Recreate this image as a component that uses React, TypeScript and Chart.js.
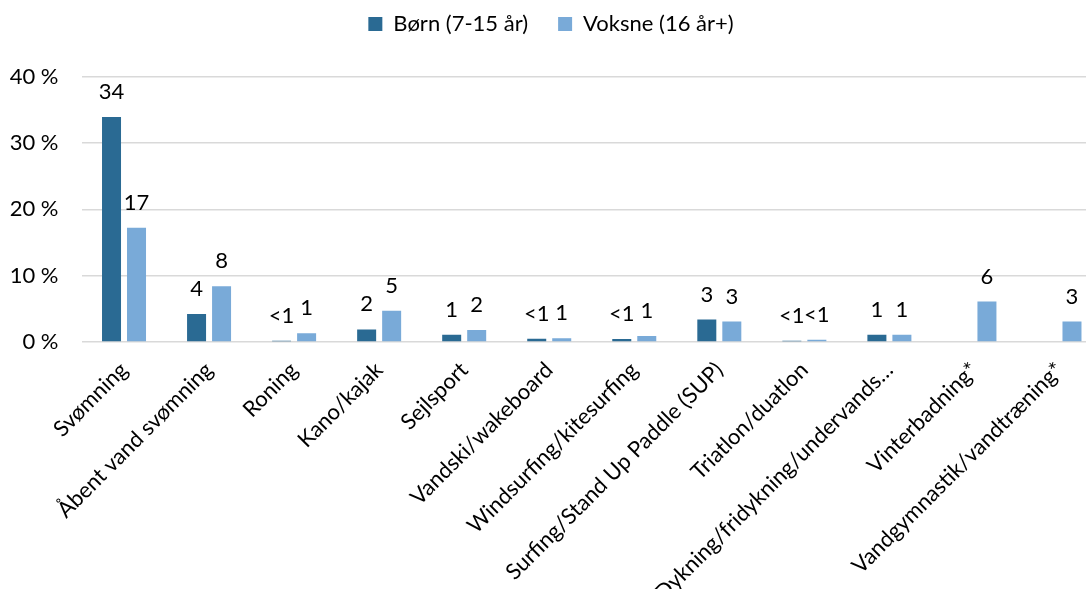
import React, { useEffect, useRef } from "react";
import { Chart, registerables } from "chart.js";

Chart.register(...registerables);

const categories = [
  "Svømning",
  "Åbent vand svømning",
  "Roning",
  "Kano/kajak",
  "Sejlsport",
  "Vandski/wakeboard",
  "Windsurfing/kitesurfing",
  "Surfing/Stand Up Paddle (SUP)",
  "Triatlon/duatlon",
  "Dykning/fridykning/undervands…",
  "Vinterbadning*",
  "Vandgymnastik/vandtræning*",
];

const childrenValues: (number | null)[] = [33.9, 4.2, 0.2, 1.9, 1.1, 0.5, 0.45, 3.4, 0.2, 1.1, null, null];
const adultValues: (number | null)[] = [17.2, 8.4, 1.3, 4.7, 1.8, 0.55, 0.9, 3.1, 0.35, 1.1, 6.1, 3.1];

const childrenLabels = ["34", "4", "<1", "2", "1", "<1", "<1", "3", "<1", "1", "", ""];
const adultLabels = ["17", "8", "1", "5", "2", "1", "1", "3", "<1", "1", "6", "3"];

const yTicks = [0, 10, 20, 30, 40];

const seriesNames = ["Børn (7-15 år)", "Voksne (16 år+)"];
const seriesColors = ["#2A6A93", "#79AAD8"];

const FONT = "Lato";

const valueLabelPlugin = {
  id: "valueLabels",
  afterDatasetsDraw(chart: any) {
    const ctx = chart.ctx;
    const labelSets = [childrenLabels, adultLabels];
    ctx.save();
    ctx.font = `22px ${FONT}`;
    ctx.fillStyle = "#000";
    ctx.textAlign = "center";
    ctx.textBaseline = "middle";
    chart.data.datasets.forEach((ds: any, di: number) => {
      const meta = chart.getDatasetMeta(di);
      meta.data.forEach((el: any, i: number) => {
        const v = ds.data[i];
        const txt = labelSets[di][i];
        if (v === null || v === undefined || !txt) return;
        ctx.fillText(txt, el.x, el.y - 25);
      });
    });
    ctx.restore();
  },
};

// adds empty space below the legend so the plot starts lower
const legendSpacerPlugin = {
  id: "legendSpacer",
  beforeLayout(chart: any) {
    const lg = chart.legend;
    if (lg && !lg.__spaced) {
      const orig = lg.fit.bind(lg);
      lg.fit = function () {
        orig();
        this.height += 31.5;
      };
      lg.__spaced = true;
    }
  },
};

export default function App() {
  const ref = useRef<HTMLCanvasElement | null>(null);

  useEffect(() => {
    if (!ref.current) return;
    Chart.defaults.font.family = FONT;
    const chart = new Chart(ref.current, {
      type: "bar",
      data: {
        labels: categories,
        datasets: [
          {
            label: seriesNames[0],
            data: childrenValues,
            backgroundColor: seriesColors[0],
            categoryPercentage: 0.588,
            barPercentage: 0.76,
          },
          {
            label: seriesNames[1],
            data: adultValues,
            backgroundColor: seriesColors[1],
            categoryPercentage: 0.588,
            barPercentage: 0.76,
          },
        ],
      },
      options: {
        responsive: false,
        animation: false,
        layout: { padding: { top: -17, left: 0, right: 0, bottom: 0 } },
        plugins: {
          legend: {
            display: true,
            position: "top",
            labels: {
              boxWidth: 14,
              boxHeight: 14,
              padding: 30,
              color: "#000",
              font: { size: 22, family: FONT },
            },
          },
          tooltip: { enabled: false },
        },
        scales: {
          x: {
            grid: { display: false },
            border: { display: false },
            ticks: {
              autoSkip: false,
              maxRotation: 45,
              minRotation: 45,
              color: "#000",
              padding: 7,
              font: { size: 22, family: FONT },
            },
            afterFit: (scale: any) => {
              scale.height = 247;
              scale.paddingLeft = 0;
              scale.paddingRight = 0;
            },
          },
          y: {
            min: 0,
            max: 40,
            afterBuildTicks: (scale: any) => {
              scale.ticks = yTicks.map((v) => ({ value: v }));
            },
            grid: { color: "#D9D9D9", lineWidth: 1.5, drawTicks: false },
            border: { display: false },
            ticks: {
              color: "#000",
              padding: 23,
              font: { size: 22, family: FONT },
              callback: (v: any) => `${v} %`,
            },
            afterFit: (scale: any) => {
              scale.width = 81.5;
              scale.paddingTop = 0;
              scale.paddingBottom = 0;
            },
          },
        },
      },
      plugins: [legendSpacerPlugin, valueLabelPlugin],
    });
    return () => chart.destroy();
  }, []);

  return (
    <div style={{ position: "fixed", left: 0, top: 0, width: 1086, height: 589, overflow: "hidden", background: "#fff" }}>
      <canvas ref={ref} width={1102} height={589} style={{ display: "block" }} />
    </div>
  );
}
